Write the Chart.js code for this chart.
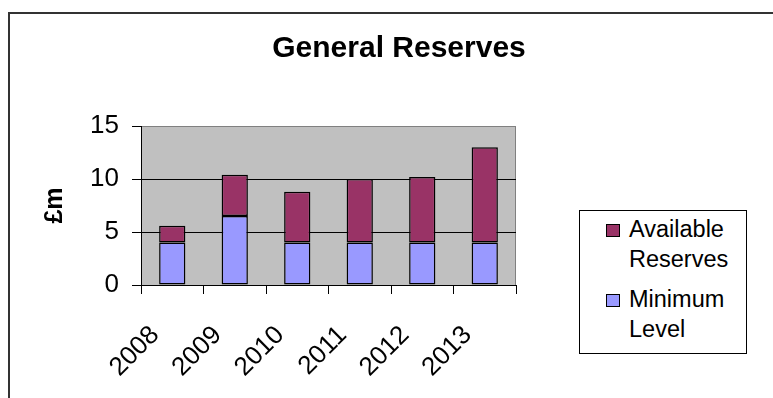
<!DOCTYPE html>
<html>
<head>
<meta charset="utf-8">
<script src="https://cdn.jsdelivr.net/npm/chart.js@4"></script>
<style>
  html, body { margin: 0; padding: 0; background: #fff; }
  #wrap { position: relative; width: 773px; height: 398px; overflow: hidden; }
  #frame { position: absolute; left: 8px; top: 12px; width: 800px; height: 420px;
           border-left: 2px solid #333; border-top: 2px solid #333; box-sizing: border-box; }
  canvas { position: absolute; left: 0; top: 0; }
  #legend { position: absolute; left: 579px; top: 210px; width: 168px; height: 144px;
            box-sizing: border-box; border: 1px solid #000; background: #fff;
            padding-top: 3px; font-family: "Liberation Sans", Arial, sans-serif;
            font-size: 23.5px; line-height: 30px; color: #000; }
  .item { display: flex; align-items: flex-start; margin-bottom: 10px; }
  .swatch { width: 14px; height: 13px; box-sizing: border-box; border: 1px solid #000;
            margin: 10px 9px 0 26px; flex: none; }
</style>
</head>
<body>
<div id="wrap">
  <div id="frame"></div>
  <canvas id="chart" width="773" height="398"></canvas>
  <div id="legend"></div>
</div>
<script>
// General reserves by year, £m
const years = ['2008', '2009', '2010', '2011', '2012', '2013'];
const minimumLevel = [4, 6.5, 4, 4, 4, 4];
const availableReserves = [1.6, 3.9, 4.8, 6, 6.2, 9];
const yTicks = [0, 5, 10, 15];

const seriesNames = { available: ['Available', 'Reserves'], minimum: ['Minimum', 'Level'] };
const colours = { available: '#993366', minimum: '#9999FF' };

const FONT = '"Liberation Sans", Arial, sans-serif';

// grey plot area with a grey frame on the top and right
const plotBackground = {
  id: 'plotBackground',
  beforeDraw(chart) {
    const { ctx, chartArea: a } = chart;
    ctx.save();
    ctx.fillStyle = '#C0C0C0';
    ctx.fillRect(a.left, a.top, a.right - a.left, a.bottom - a.top);
    ctx.strokeStyle = '#808080';
    ctx.lineWidth = 1;
    ctx.beginPath();
    ctx.moveTo(a.left, a.top + 0.5);
    ctx.lineTo(a.right - 0.5, a.top + 0.5);
    ctx.lineTo(a.right - 0.5, a.bottom);
    ctx.stroke();
    ctx.restore();
  }
};

const chartTitle = {
  id: 'chartTitle',
  afterDraw(chart) {
    const ctx = chart.ctx;
    ctx.save();
    ctx.font = 'bold 30px ' + FONT;
    ctx.fillStyle = '#000';
    ctx.textAlign = 'center';
    ctx.textBaseline = 'alphabetic';
    ctx.fillText('General Reserves', 399, 57);
    ctx.restore();
  }
};

new Chart(document.getElementById('chart'), {
  type: 'bar',
  data: {
    labels: years,
    datasets: [
      { label: seriesNames.minimum.join(' '), data: minimumLevel, backgroundColor: colours.minimum,
        borderColor: '#000', borderWidth: 1.5, borderSkipped: false },
      { label: seriesNames.available.join(' '), data: availableReserves, backgroundColor: colours.available,
        borderColor: '#000', borderWidth: 1.5, borderSkipped: false }
    ]
  },
  options: {
    responsive: false,
    animation: false,
    devicePixelRatio: 1,
    layout: { padding: { left: 9, right: 257, top: 126, bottom: 0 } },
    datasets: { bar: { categoryPercentage: 1, barPercentage: 0.42 } },
    plugins: { legend: { display: false }, title: { display: false }, tooltip: { enabled: false } },
    scales: {
      x: {
        stacked: true,
        afterFit(scale) { scale.height = 113; },
        grid: { offset: true, drawOnChartArea: false, drawTicks: true, tickLength: 9, color: '#000', lineWidth: 1 },
        border: { display: true, color: '#000', width: 1 },
        ticks: { color: '#000', font: { family: FONT, size: 26 }, maxRotation: 45, minRotation: 45,
                 padding: 26, labelOffset: -17, autoSkip: false }
      },
      y: {
        stacked: true,
        min: 0, max: 15,
        afterFit(scale) { scale.width = 132; },
        afterBuildTicks(scale) { scale.ticks = yTicks.map(v => ({ value: v })); },
        grid: { color: c => (c.tick && c.tick.value === 15 ? '#808080' : '#000'), tickColor: '#000',
                tickLength: 9, lineWidth: 1 },
        border: { display: true, color: '#000', width: 1 },
        ticks: { color: '#000', font: { family: FONT, size: 26 }, padding: 13 },
        title: { display: true, text: '£m', color: '#000', font: { family: FONT, size: 25, weight: 'bold' },
                 padding: { top: 31, bottom: 0 } }
      }
    }
  },
  plugins: [plotBackground, chartTitle]
});

// legend, top entry is the upper stack segment
const legend = document.getElementById('legend');
['available', 'minimum'].forEach(key => {
  const item = document.createElement('div');
  item.className = 'item';
  const sw = document.createElement('span');
  sw.className = 'swatch';
  sw.style.background = colours[key];
  const txt = document.createElement('span');
  txt.innerHTML = seriesNames[key].join('<br>');
  item.appendChild(sw);
  item.appendChild(txt);
  legend.appendChild(item);
});
</script>
</body>
</html>
